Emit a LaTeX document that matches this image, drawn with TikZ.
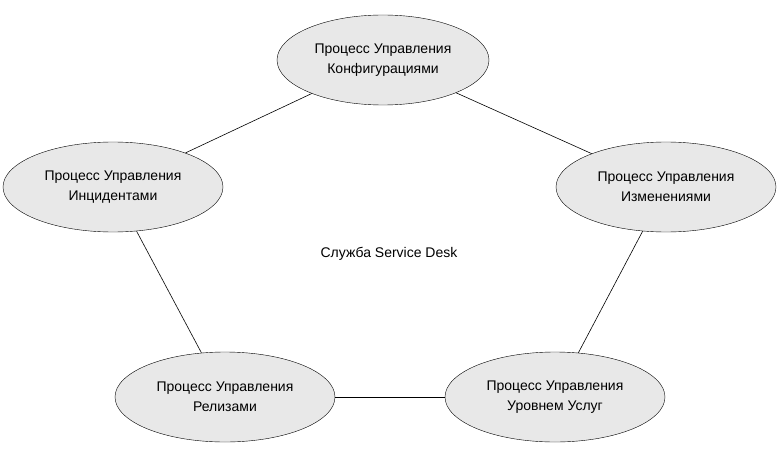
\documentclass[tikz,border=0pt]{standalone}
\usepackage{fontspec}
\setmainfont{Liberation Sans}
\usetikzlibrary{shapes.geometric}
\begin{document}
\begin{tikzpicture}[
  x=1pt, y=-1pt,
  proc/.style={ellipse, draw, fill=gray!18, minimum width=220pt, minimum height=90pt,
    inner sep=0pt, align=center, font=\fontsize{14}{20}\selectfont},
  e/.style={line width=0.6pt}
]
\useasboundingbox (0,0) rectangle (778,449);

% --- processes ---
\node[proc, minimum width=212pt] (conf) at (383,60)  {Процесс Управления\\Конфигурациями};
\node[proc] (inc)  at (113,187) {Процесс Управления\\Инцидентами};
\node[proc] (chg)  at (666,187) {Процесс Управления\\Изменениями};
\node[proc] (rel)  at (225,397) {Процесс Управления\\Релизами};
\node[proc] (slm)  at (555,397) {Процесс Управления\\Уровнем Услуг};

% --- center ---
\node[font=\fontsize{14}{20}\selectfont] (sd) at (389,254) {Служба Service Desk};

\draw[e] (conf)--(inc);
\draw[e] (conf)--(chg);
\draw[e] (inc)--(rel);
\draw[e] (chg)--(slm);
\draw[e] (rel)--(slm);

\end{tikzpicture}
\end{document}
